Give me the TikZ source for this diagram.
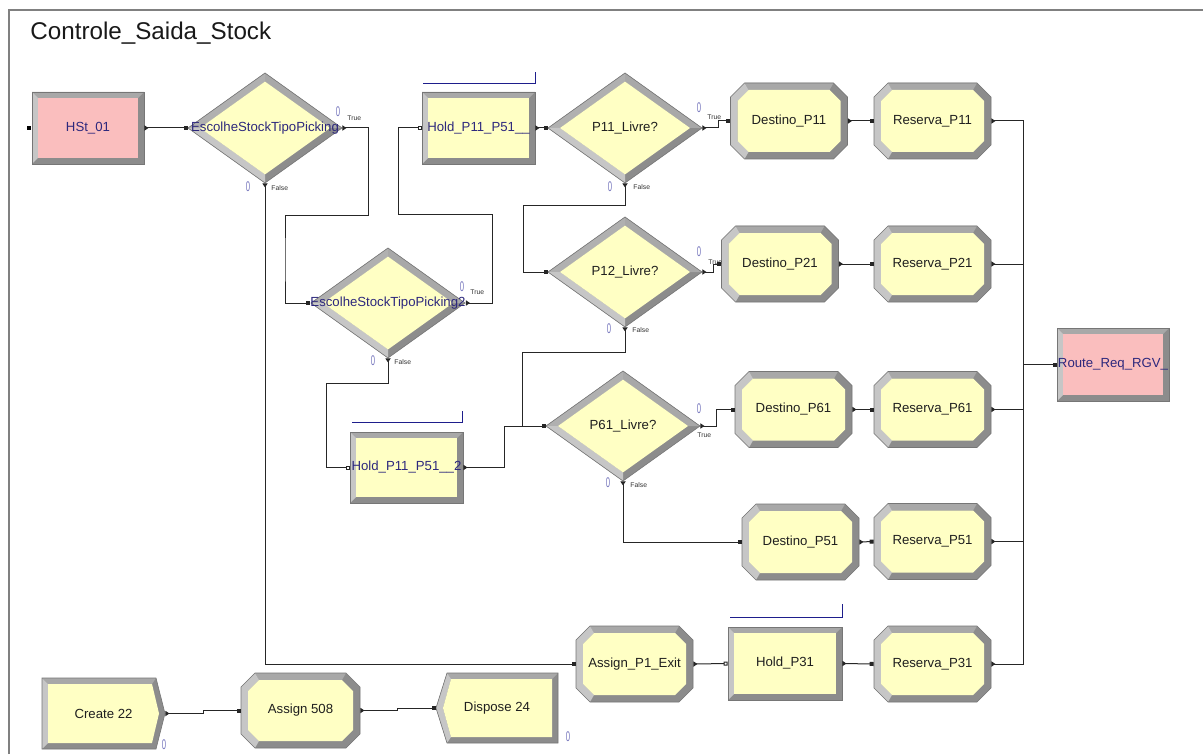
\documentclass[tikz,border=0pt]{standalone}
\usepackage{fontspec}
\setmainfont{Liberation Sans}
\usetikzlibrary{arrows.meta}

\definecolor{modyellow}{RGB}{255,255,196}
\definecolor{modpink}{RGB}{250,190,190}
\definecolor{bvlight}{RGB}{198,198,198}
\definecolor{bvmid}{RGB}{168,168,168}
\definecolor{bvupper}{RGB}{176,176,176}
\definecolor{bvdark}{RGB}{140,140,140}
\definecolor{bvedge}{RGB}{118,118,118}
\definecolor{lblblue}{RGB}{45,40,125}
\definecolor{cntblue}{RGB}{120,120,190}
\definecolor{queueblue}{RGB}{30,30,140}
\definecolor{framegray}{RGB}{128,128,128}

\tikzset{
  modlabel/.style={inner sep=0pt, font=\fontsize{6.6}{8}\selectfont, text=black!88},
  bluelabel/.style={modlabel, text=lblblue},
  conn/.style={draw=black!85, line width=0.5pt,
    {Triangle[reversed,length=2pt,width=2.6pt]}-{Square[length=2pt,width=2pt]}},
  holdconn/.style={conn,
    {Triangle[reversed,length=2pt,width=2.6pt]}-{Square[open,length=2pt,width=2pt]}},
  counter/.style={inner sep=0pt, text=cntblue, font=\fontsize{7}{8}\selectfont, xscale=0.55},
  branch/.style={inner sep=0pt, anchor=west, font=\fontsize{3.4}{4}\selectfont, text=black!80},
  queue/.style={draw=queueblue, line width=0.45pt},
  bvline/.style={draw=bvedge, line width=0.3pt},
}

% Process / assign module: chamfered box with bevelled border
% #1 name, #2 cx, #3 cy, #4 width, #5 height, #6 fill, #7 label style, #8 text
\newcommand\OctMod[8]{%
  \pgfmathsetmacro\mxa{#2-#4/2}\pgfmathsetmacro\mxb{#2+#4/2}%
  \pgfmathsetmacro\mya{#3-#5/2}\pgfmathsetmacro\myb{#3+#5/2}%
  \fill[bvdark] (\mxa+14,\mya) -- (\mxb-14,\mya) -- (\mxb,\mya+14) -- (\mxb,\myb-14)
    -- (\mxb-14,\myb) -- (\mxa+14,\myb) -- (\mxa,\myb-14) -- (\mxa,\mya+14) -- cycle;
  \fill[bvmid] (\mxa+14,\mya) -- (\mxb-14,\mya) -- (\mxb-18,\mya+7) -- (\mxa+18,\mya+7) -- cycle;
  \fill[bvlight] (\mxa+14,\myb) -- (\mxa,\myb-14) -- (\mxa,\mya+14) -- (\mxa+14,\mya)
    -- (\mxa+18,\mya+7) -- (\mxa+7,\mya+18) -- (\mxa+7,\myb-18) -- (\mxa+18,\myb-7) -- cycle;
  \fill[#6] (\mxa+18,\mya+7) -- (\mxb-18,\mya+7) -- (\mxb-7,\mya+18) -- (\mxb-7,\myb-18)
    -- (\mxb-18,\myb-7) -- (\mxa+18,\myb-7) -- (\mxa+7,\myb-18) -- (\mxa+7,\mya+18) -- cycle;
  \draw[bvline] (\mxa+14,\mya) -- (\mxb-14,\mya) -- (\mxb,\mya+14) -- (\mxb,\myb-14)
    -- (\mxb-14,\myb) -- (\mxa+14,\myb) -- (\mxa,\myb-14) -- (\mxa,\mya+14) -- cycle;
  \node[#7, name=#1, minimum width=#4*0.5pt, minimum height=#5*0.5pt] at (#2,#3) {#8};
}

% Rectangular module (hold, station, route)
\newcommand\RectMod[8]{%
  \pgfmathsetmacro\mxa{#2-#4/2}\pgfmathsetmacro\mxb{#2+#4/2}%
  \pgfmathsetmacro\mya{#3-#5/2}\pgfmathsetmacro\myb{#3+#5/2}%
  \fill[bvdark] (\mxa,\mya) rectangle (\mxb,\myb);
  \fill[bvmid] (\mxa,\mya) -- (\mxb,\mya) -- (\mxb-6,\mya+6) -- (\mxa+6,\mya+6) -- cycle;
  \fill[bvlight] (\mxa,\mya) -- (\mxa+6,\mya+6) -- (\mxa+6,\myb-6) -- (\mxa,\myb) -- cycle;
  \fill[#6] (\mxa+6,\mya+6) rectangle (\mxb-6,\myb-6);
  \draw[bvline] (\mxa,\mya) rectangle (\mxb,\myb);
  \node[#7, name=#1, minimum width=#4*0.5pt, minimum height=#5*0.5pt] at (#2,#3) {#8};
}

% Decision module: bevelled diamond
% #1 name, #2 cx, #3 cy, #4 label style, #5 text
\newcommand\DiaMod[5]{%
  \fill[bvdark] (#2-77,#3) -- (#2,#3-55) -- (#2+77,#3) -- (#2,#3+55) -- cycle;
  \fill[bvupper] (#2-77,#3) -- (#2,#3-55) -- (#2,#3-46.4) -- (#2-65,#3) -- cycle;
  \fill[bvmid] (#2,#3-55) -- (#2+77,#3) -- (#2+65,#3) -- (#2,#3-46.4) -- cycle;
  \fill[bvlight] (#2-77,#3) -- (#2,#3+55) -- (#2,#3+46.4) -- (#2-65,#3) -- cycle;
  \fill[modyellow] (#2-65,#3) -- (#2,#3-46.4) -- (#2+65,#3) -- (#2,#3+46.4) -- cycle;
  \draw[bvline] (#2-77,#3) -- (#2,#3-55) -- (#2+77,#3) -- (#2,#3+55) -- cycle;
  \node[#4, name=#1, minimum width=77pt, minimum height=55pt] at (#2,#3) {#5};
}

% Create module: box with a pointed right side
\newcommand\CreateMod[6]{%
  \pgfmathsetmacro\mxa{#2-#4/2}\pgfmathsetmacro\mxb{#2+#4/2}%
  \pgfmathsetmacro\mya{#3-#5/2}\pgfmathsetmacro\myb{#3+#5/2}%
  \fill[bvdark] (\mxa,\mya) -- (\mxb-9,\mya) -- (\mxb,#3) -- (\mxb-9,\myb) -- (\mxa,\myb) -- cycle;
  \fill[bvmid] (\mxa,\mya) -- (\mxb-9,\mya) -- (\mxb-13,\mya+6) -- (\mxa+6,\mya+6) -- cycle;
  \fill[bvlight] (\mxa,\mya) -- (\mxa+6,\mya+6) -- (\mxa+6,\myb-6) -- (\mxa,\myb) -- cycle;
  \fill[modyellow] (\mxa+6,\mya+6) -- (\mxb-13,\mya+6) -- (\mxb-6,#3) -- (\mxb-13,\myb-6)
    -- (\mxa+6,\myb-6) -- cycle;
  \draw[bvline] (\mxa,\mya) -- (\mxb-9,\mya) -- (\mxb,#3) -- (\mxb-9,\myb) -- (\mxa,\myb) -- cycle;
  \node[modlabel, name=#1, minimum width=#4*0.5pt, minimum height=#5*0.5pt] at (#2,#3) {#6};
}

% Dispose module: box with a pointed left side
\newcommand\DisposeMod[6]{%
  \pgfmathsetmacro\mxa{#2-#4/2}\pgfmathsetmacro\mxb{#2+#4/2}%
  \pgfmathsetmacro\mya{#3-#5/2}\pgfmathsetmacro\myb{#3+#5/2}%
  \fill[bvdark] (\mxa+11,\mya) -- (\mxb,\mya) -- (\mxb,\myb) -- (\mxa+11,\myb) -- (\mxa,#3) -- cycle;
  \fill[bvmid] (\mxa+11,\mya) -- (\mxb,\mya) -- (\mxb-6,\mya+6) -- (\mxa+15,\mya+6) -- cycle;
  \fill[bvlight] (\mxa+11,\mya) -- (\mxa+15,\mya+6) -- (\mxa+7,#3) -- (\mxa+15,\myb-6)
    -- (\mxa+11,\myb) -- (\mxa,#3) -- cycle;
  \fill[modyellow] (\mxa+15,\mya+6) -- (\mxb-6,\mya+6) -- (\mxb-6,\myb-6) -- (\mxa+15,\myb-6)
    -- (\mxa+7,#3) -- cycle;
  \draw[bvline] (\mxa+11,\mya) -- (\mxb,\mya) -- (\mxb,\myb) -- (\mxa+11,\myb) -- (\mxa,#3) -- cycle;
  \node[modlabel, name=#1, minimum width=#4*0.5pt, minimum height=#5*0.5pt] at (#2,#3) {#6};
}

\begin{document}
\begin{tikzpicture}[x=0.5pt, y=-0.5pt]
\useasboundingbox (0,0) rectangle (1203,754);
\fill[white] (0,0) rectangle (1203,754);

% submodel frame and title
\draw[framegray, line width=0.7pt] (9,754) -- (9,10) -- (1203,10);
\node[name=title, anchor=base west, inner sep=0pt, font=\fontsize{12.1}{14}\selectfont, text=black!90]
  at (30,40) {Controle\_Saida\_Stock};

% modules
\RectMod{hst}{88}{128}{112}{72}{modpink}{bluelabel}{HSt\_01}
\DiaMod{esc1}{265}{128}{bluelabel}{EscolheStockTipoPicking}
\RectMod{hold1}{478.5}{128}{113}{72}{modyellow}{bluelabel}{Hold\_P11\_P51\_\_}
\DiaMod{p11}{625}{128}{modlabel}{P11\_Livre?}
\OctMod{d11}{789}{121}{117}{76}{modyellow}{modlabel}{Destino\_P11}
\OctMod{r11}{932.5}{121}{117}{76}{modyellow}{modlabel}{Reserva\_P11}

\DiaMod{esc2}{388}{303}{bluelabel}{EscolheStockTipoPicking2}
\DiaMod{p12}{625}{272}{modlabel}{P12\_Livre?}
\OctMod{d21}{780}{264}{117}{76}{modyellow}{modlabel}{Destino\_P21}
\OctMod{r21}{932.5}{264}{117}{76}{modyellow}{modlabel}{Reserva\_P21}

\RectMod{route}{1113}{364.5}{112}{73}{modpink}{bluelabel}{Route\_Req\_RGV\_}

\RectMod{hold2}{406.5}{467.5}{113}{71}{modyellow}{bluelabel}{Hold\_P11\_P51\_\_2}
\DiaMod{p61}{623}{426}{modlabel}{P61\_Livre?}
\OctMod{d61}{793.5}{409.5}{117}{76}{modyellow}{modlabel}{Destino\_P61}
\OctMod{r61}{932.5}{409.5}{117}{76}{modyellow}{modlabel}{Reserva\_P61}

\OctMod{d51}{800.5}{542}{117}{76}{modyellow}{modlabel}{Destino\_P51}
\OctMod{r51}{932.5}{541.5}{117}{76}{modyellow}{modlabel}{Reserva\_P51}

\OctMod{ap1}{634.5}{664}{117}{76}{modyellow}{modlabel}{Assign\_P1\_Exit}
\RectMod{hold31}{785}{663.5}{114}{73}{modyellow}{modlabel}{Hold\_P31}
\OctMod{r31}{932.5}{664}{117}{76}{modyellow}{modlabel}{Reserva\_P31}

\CreateMod{cr22}{103.5}{713.5}{123}{71}{Create 22}
\OctMod{as508}{300.5}{710.5}{119}{75}{modyellow}{modlabel}{Assign 508}
\DisposeMod{dp24}{497}{708}{122}{70}{Dispose 24}

% queue lines of the hold modules
\draw[queue] (423,83) -- (535,83) -- (535,72);
\draw[queue] (352,422) -- (462,422) -- (462,411);
\draw[queue] (730,617) -- (842,617) -- (842,604);

% entry point of the station
\fill[black] (27,126) rectangle (31,130);

% counters and branch labels
\node[counter, name=k1] at (338,112) {0};
\node[branch, name=b1] at (347,118) {True};
\node[counter, name=k2] at (248,187) {0};
\node[branch, name=b2] at (271,188) {False};
\node[counter, name=k3] at (462,287) {0};
\node[branch, name=b3] at (470,292) {True};
\node[counter, name=k4] at (373,361) {0};
\node[branch, name=b4] at (394,362) {False};
\node[counter, name=k5] at (699,108) {0};
\node[branch, name=b5] at (707,117) {True};
\node[counter, name=k6] at (610,187) {0};
\node[branch, name=b6] at (633,187) {False};
\node[counter, name=k7] at (699,252) {0};
\node[branch, name=b7] at (708,262) {True};
\node[counter, name=k8] at (609,329) {0};
\node[branch, name=b8] at (632,330) {False};
\node[counter, name=k9] at (699,409) {0};
\node[branch, name=b9] at (697,435) {True};
\node[counter, name=k10] at (608,483) {0};
\node[branch, name=b10] at (630,485) {False};
\node[counter, name=k11] at (164,745) {0};
\node[counter, name=k12] at (568,737) {0};

% connectors
\draw[conn] (hst.east) -- (esc1.west);
\draw[conn] (esc1.east) -| (368,216) -| (285,260) |- (esc2.west);
\draw[holdconn] (esc2.east) -| (492,215) -- (398,215) |- (hold1.west);
\draw[holdconn] (esc2.south) |- (326,383) |- (hold2.west);
\draw[conn] (esc1.south) |- (ap1.west);
\draw[conn] (hold1.east) -- (p11.west);
\draw[conn] (p11.east) -- ++(16,0) |- (d11.west);
\draw[conn] (d11.east) -- (r11.west);
\draw[conn] (r11.east) -- ++(32,0) |- (route.west);
\draw[conn] (p11.south) |- (523,206) |- (p12.west);
\draw[conn] (p12.east) -- ++(11,0) |- (d21.west);
\draw[conn] (d21.east) -- (r21.west);
\draw[conn] (r21.east) -- ++(32,0) |- (route.west);
\draw[conn] (p12.south) |- (522,352) |- (p61.west);
\draw[conn] (hold2.east) -| (504,426) -- (p61.west);
\draw[conn] (p61.east) -- ++(16,0) |- (d61.west);
\draw[conn] (d61.east) -- (r61.west);
\draw[conn] (r61.east) -- ++(32,0) |- (route.west);
\draw[conn] (p61.south) |- (d51.west);
\draw[conn] (d51.east) -- (r51.west);
\draw[conn] (r51.east) -- ++(32,0) |- (route.west);
\draw[holdconn] (ap1.east) -- (hold31.west);
\draw[conn] (hold31.east) -- (r31.west);
\draw[conn] (r31.east) -- ++(32,0) |- (route.west);
\draw[conn] (cr22.east) -- ++(38,0) |- (as508.west);
\draw[conn] (as508.east) -- ++(37,0) |- (dp24.west);
\end{tikzpicture}
\end{document}
